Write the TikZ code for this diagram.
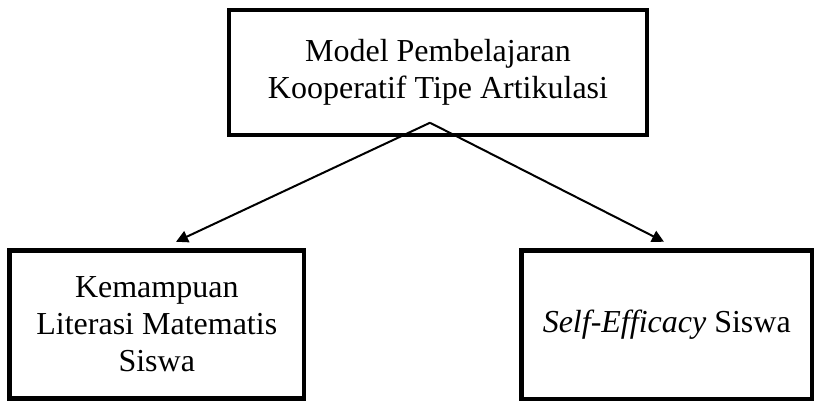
\documentclass[tikz,border=0pt]{standalone}
\usepackage{fontspec}
\setmainfont{Liberation Serif}
\usetikzlibrary{arrows.meta,calc}
\begin{document}
\begin{tikzpicture}[x=1pt,y=1pt,
  box/.style={draw=black,line width=4.5pt,rectangle,align=center,inner sep=0pt,
    font=\fontsize{32}{37}\selectfont},
  conn/.style={line width=2pt,-{Triangle[length=12pt,width=12pt]}}]
\useasboundingbox (0,0) rectangle (814,-401);
\node[box,minimum width=418pt,minimum height=125pt] (T) at (438,-72.5)
  {Model Pembelajaran\\Kooperatif Tipe Artikulasi};
\node[box,minimum width=294.5pt,minimum height=148pt] (L) at (156.75,-324.5)
  {Kemampuan\\Literasi Matematis\\Siswa};
\node[box,minimum width=290.5pt,minimum height=148.5pt] (R) at (666.75,-324.75)
  {\textit{Self-Efficacy} Siswa};
\coordinate (apex) at ($(T.south)+(-8,14.5)$);
\draw[conn] (apex) -- ($(L.north)+(19.25,6.5)$);
\draw[conn] (apex) -- ($(R.north)+(-2.75,6.5)$);
\end{tikzpicture}
\end{document}
